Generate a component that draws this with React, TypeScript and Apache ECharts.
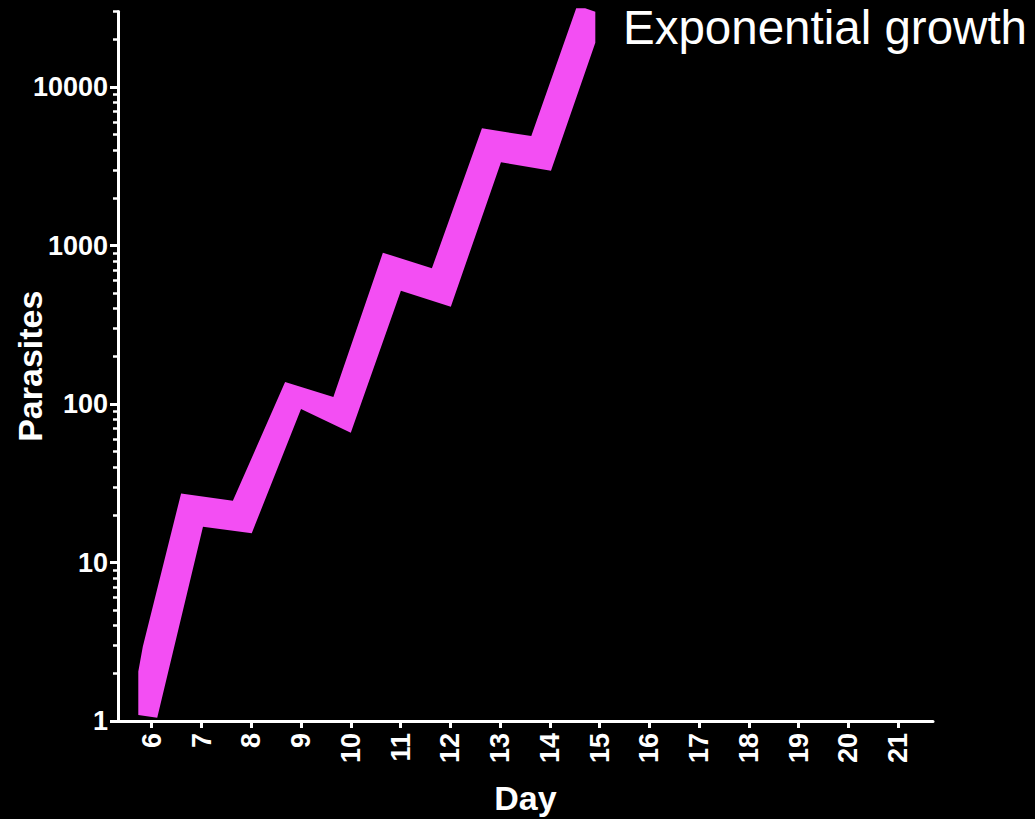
import React, { useEffect, useRef } from "react";
import * as echarts from "echarts";

const dayTicks = [6, 7, 8, 9, 10, 11, 12, 13, 14, 15, 16, 17, 18, 19, 20, 21];
const yLabelTicks = [1, 10, 100, 1000, 10000];
const yMinorTicks = [
  2, 3, 4, 5, 6, 7, 8, 9,
  20, 30, 40, 50, 60, 70, 80, 90,
  200, 300, 400, 500, 600, 700, 800, 900,
  2000, 3000, 4000, 5000, 6000, 7000, 8000, 9000,
  20000, 30000,
];

// band outline: upper edge left -> right, then lower edge right -> left
const upperEdgeDays = [5.73, 5.82, 6.59, 7.63, 8.68, 9.65, 10.645, 11.63, 12.636, 13.627, 14.53, 14.71, 14.914];
const upperEdgeParasites = [2.05, 2.94, 27.3, 24.5, 137.7, 110.7, 901, 718, 5487, 4909, 31370, 31370, 29850];
const lowerEdgeDays = [14.914, 14.023, 13.018, 12.01, 11.007, 10.0, 9.0, 8.01, 7.03, 6.11, 5.73];
const lowerEdgeParasites = [19030, 2965, 3350, 411, 518.6, 65.9, 93, 15.3, 16.8, 1.05, 1.09];

const FONT = "'Liberation Sans', Arial, Helvetica, sans-serif";
const BAND_COLOR = "#f34ef3";

export default function App() {
  const ref = useRef<HTMLDivElement>(null);

  useEffect(() => {
    if (!ref.current) return;
    const chart = echarts.init(ref.current, null, { renderer: "svg" });

    const outline: number[][] = [];
    upperEdgeDays.forEach((d, i) => outline.push([d, upperEdgeParasites[i]]));
    lowerEdgeDays.forEach((d, i) => outline.push([d, lowerEdgeParasites[i]]));

    const option: any = {
      animation: false,
      backgroundColor: "#000000",
      title: {
        text: "Exponential growth",
        left: 623,
        top: 2,
        padding: 0,
        textStyle: {
          color: "#ffffff",
          fontFamily: FONT,
          fontWeight: "normal",
          fontSize: 47.5,
          lineHeight: 50,
        },
      },
      grid: {
        left: 118,
        right: 102,
        top: 11.4,
        bottom: 98,
        containLabel: false,
        outerBoundsMode: "none",
      },
      xAxis: {
        type: "value",
        min: 5.322,
        max: 21.7,
        name: "Day",
        nameLocation: "middle",
        nameGap: 60,
        nameMoveOverlap: false,
        nameTextStyle: {
          color: "#ffffff",
          fontFamily: FONT,
          fontWeight: "bold",
          fontSize: 34,
        },
        splitLine: { show: false },
        axisLine: { show: true, lineStyle: { color: "#ffffff", width: 3 } },
        axisTick: {
          show: true,
          length: 7,
          lineStyle: { color: "#ffffff", width: 3 },
          customValues: dayTicks,
        },
        axisLabel: {
          show: true,
          rotate: 90,
          margin: 12,
          color: "#ffffff",
          fontFamily: FONT,
          fontWeight: "bold",
          fontSize: 27,
          customValues: dayTicks,
          formatter: (v: number) => String(v),
        },
      },
      yAxis: [
        {
          type: "log",
          logBase: 10,
          min: 1,
          max: 30000,
          name: "Parasites",
          nameLocation: "middle",
          nameGap: 71,
          nameMoveOverlap: false,
          nameTextStyle: {
            color: "#ffffff",
            fontFamily: FONT,
            fontWeight: "bold",
            fontSize: 34,
          },
          splitLine: { show: false },
          axisLine: { show: true, lineStyle: { color: "#ffffff", width: 3 } },
          axisTick: {
            show: true,
            length: 8,
            lineStyle: { color: "#ffffff", width: 3 },
            customValues: yLabelTicks,
          },
          axisLabel: {
            show: true,
            margin: 10,
            color: "#ffffff",
            fontFamily: FONT,
            fontWeight: "bold",
            fontSize: 27,
            customValues: yLabelTicks,
            formatter: (v: number) => String(Math.round(v)),
          },
        },
        {
          type: "log",
          logBase: 10,
          min: 1,
          max: 30000,
          position: "left",
          splitLine: { show: false },
          axisLine: { show: false },
          axisTick: {
            show: true,
            length: 5,
            lineStyle: { color: "#ffffff", width: 2.5 },
            customValues: yMinorTicks,
          },
          axisLabel: { show: false },
        },
      ],
      series: [
        {
          type: "custom",
          name: "Parasites",
          clip: false,
          data: outline,
          encode: { x: 0, y: 1 },
          renderItem: (params: any, api: any) => {
            if (params.dataIndex !== 0) return null;
            const pts = outline.map((p) => api.coord(p));
            return {
              type: "polygon",
              shape: { points: pts },
              style: { fill: BAND_COLOR, stroke: "none" },
            };
          },
        },
      ],
    };

    chart.setOption(option);
    return () => chart.dispose();
  }, []);

  return (
    <div
      ref={ref}
      style={{ position: "fixed", left: 0, top: 0, width: 1035, height: 819, background: "#000" }}
    />
  );
}
